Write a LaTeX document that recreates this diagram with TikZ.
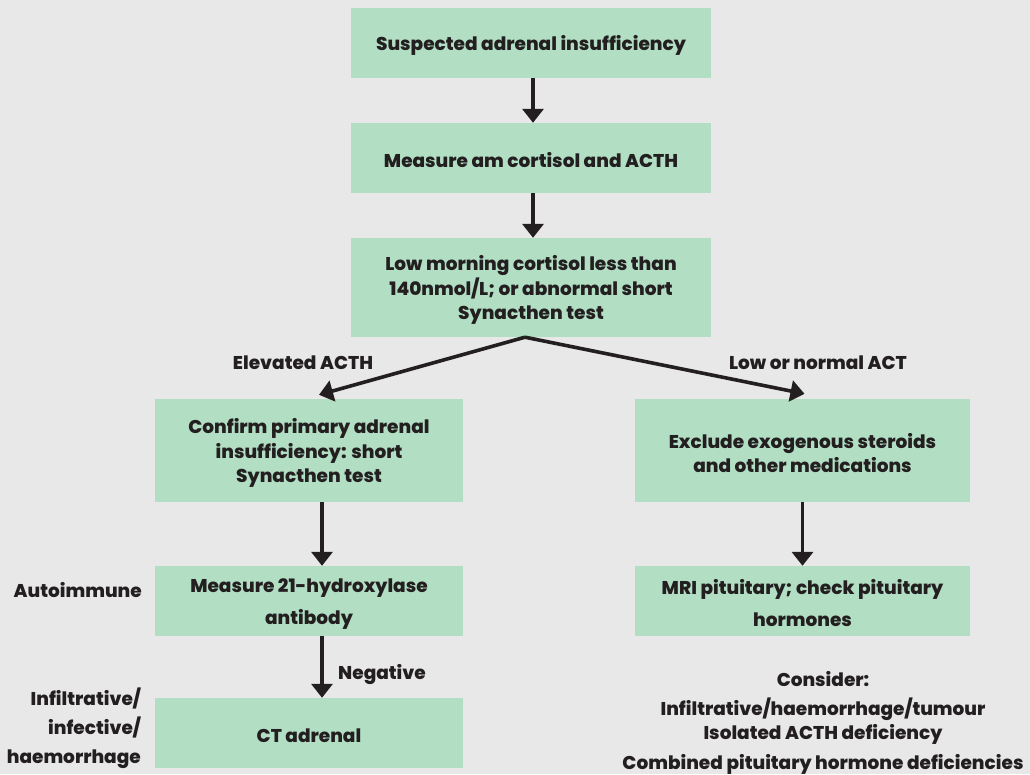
\documentclass[tikz,border=0pt]{standalone}
\usepackage{fontspec}
\setmainfont{Poppins}[BoldFont={* ExtraBold}]
\usetikzlibrary{arrows.meta}
\definecolor{bg}{HTML}{E8E8E8}
\definecolor{boxfill}{HTML}{B2DFC4}
\definecolor{ink}{HTML}{231F20}
\newcommand\mytopstrut{\rule{0pt}{20pt}}
\tikzset{
  box/.style={fill=boxfill, align=center, inner sep=0pt, text=ink,
    font=\fontsize{18.5}{24.5}\selectfont\bfseries},
  lbl/.style={text=ink, inner sep=0pt, font=\fontsize{18.5}{24.5}\selectfont\bfseries},
  arr/.style={draw=ink, line width=3.6pt, -{Triangle[width=21pt,length=14pt]}},
}
\begin{document}
\begin{tikzpicture}[x=1pt,y=-1pt]
\fill[bg] (0,0) rectangle (1030,774);
\useasboundingbox (0,0) rectangle (1030,774);
\node[box, minimum width=360pt, minimum height=70pt] (b1) at (531,43) {\mytopstrut Suspected adrenal insufficiency};
\node[box, minimum width=360pt, minimum height=70pt] (b2) at (531,158) {\mytopstrut Measure am cortisol and ACTH};
\node[box, minimum width=360pt, minimum height=99pt] (b3) at (531,287.5) {\mytopstrut Low morning cortisol less than\\140nmol/L; or abnormal short\\Synacthen test};
\node[box, minimum width=308pt, minimum height=103pt] (b4) at (309,450.5) {\mytopstrut Confirm primary adrenal\\insufficiency: short\\Synacthen test};
\node[box, minimum width=335pt, minimum height=103pt] (b5) at (802.5,450.5) {\mytopstrut Exclude exogenous steroids\\and other medications};
\node[box, minimum width=308pt, minimum height=70pt, font=\fontsize{18.5}{32}\selectfont\bfseries] (b6) at (309,601) {\mytopstrut Measure 21-hydroxylase\\antibody};
\node[box, minimum width=335pt, minimum height=70pt, font=\fontsize{18.5}{32}\selectfont\bfseries] (b7) at (802.5,601) {\mytopstrut MRI pituitary; check pituitary\\hormones};
\node[box, minimum width=308pt, minimum height=70pt] (b8) at (309,733) {\mytopstrut CT adrenal};

\node[lbl] (lelev) at (303,363) {Elevated ACTH};
\node[lbl] (llow) at (818,363) {Low or normal ACT};
\node[lbl, anchor=east] (lauto) at (142,590) {Autoimmune};
\node[lbl, anchor=west] (lneg) at (338,675) {Negative};
\node[lbl, anchor=east, align=right, font=\fontsize{18.5}{29}\selectfont\bfseries] (linf) at (141,728) {Infiltrative/\\infective/\\haemorrhage};
\node[lbl] (lcons) at (823,679) {Consider:};
\node[lbl] (lc1) at (823,709) {Infiltrative/haemorrhage/tumour};
\node[lbl] (lc2) at (823,734) {Isolated ACTH deficiency};
\node[lbl] (lc3) at (823,764) {Combined pituitary hormone deficiencies};

\coordinate (apex) at ([xshift=-6pt]b3.south);
\draw[arr] ([xshift=2pt]b1.south) -- ([xshift=2pt]b2.north);
\draw[arr] ([xshift=2pt]b2.south) -- ([xshift=2pt]b3.north);
\draw[arr] (apex) -- ([xshift=10pt,yshift=4pt]b4.north);
\draw[arr] (apex) -- ([xshift=2pt,yshift=5pt]b5.north);
\draw[arr] ([xshift=13pt]b4.south) -- ([xshift=13pt]b6.north);
\draw[arr] (b5.south) -- (b7.north);
\draw[arr] ([xshift=13pt]b6.south) -- ([xshift=13pt]b8.north);
\end{tikzpicture}
\end{document}
